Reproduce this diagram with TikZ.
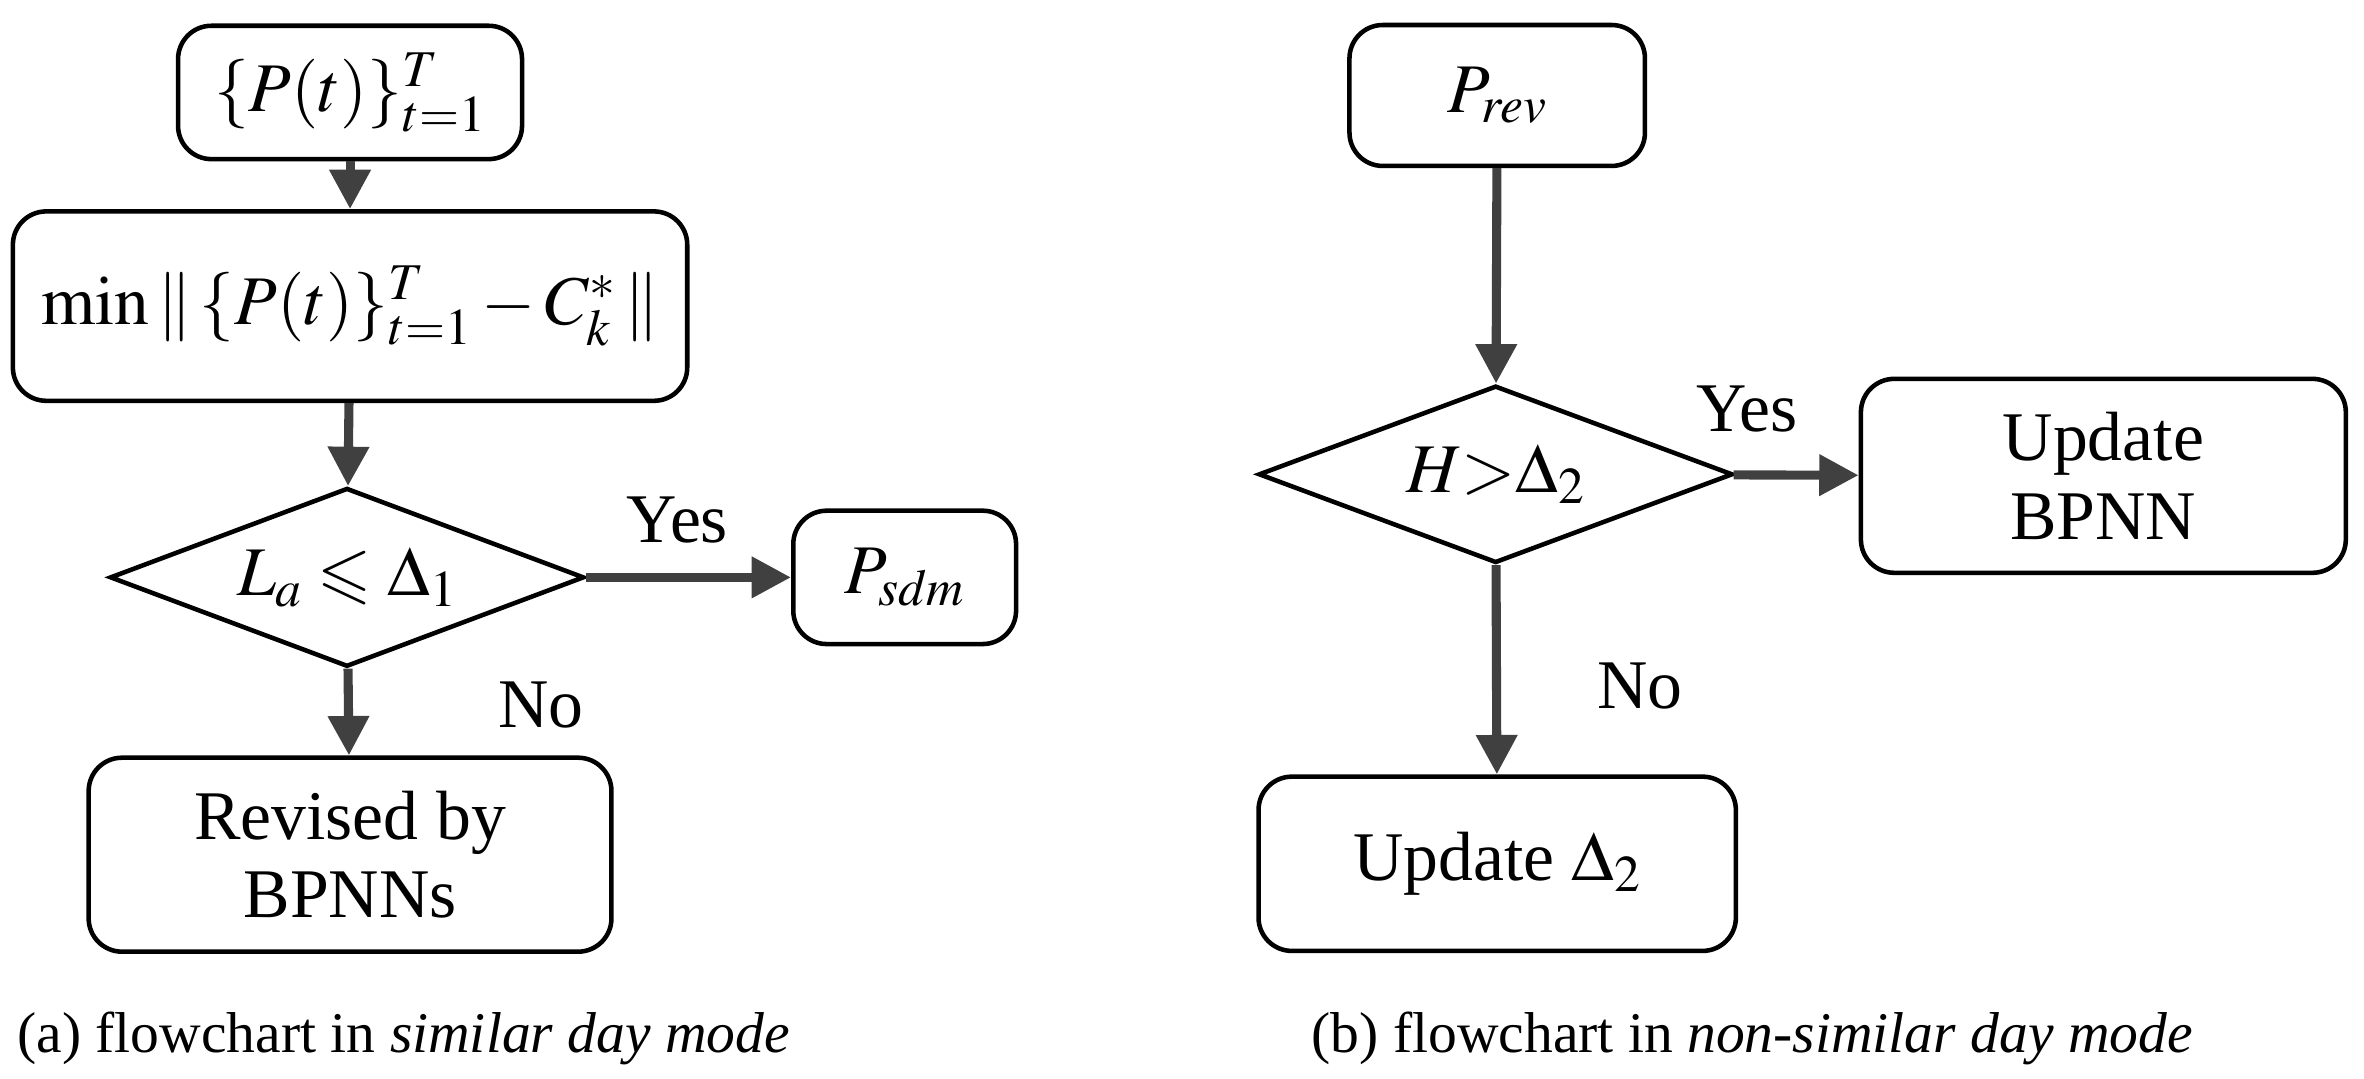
\documentclass[tikz,border=0pt]{standalone}
\usepackage{mathptmx}
\usepackage{amssymb}
\usepackage[no-math]{fontspec}
\setmainfont{Liberation Serif}
\usetikzlibrary{shapes.geometric,arrows.meta}
\begin{document}
\begin{tikzpicture}[x=1pt,y=-1pt,
  box/.style={draw,line width=3pt,rounded corners=22pt,align=center,font=\fontsize{46}{52}\selectfont,inner sep=0pt},
  dia/.style={draw,line width=3pt,diamond,aspect=2.65,inner sep=0pt,font=\fontsize{46}{52}\selectfont},
  arr/.style={draw=black!75,line width=6pt,-{Triangle[length=26pt,width=26pt]}},
  lab/.style={font=\fontsize{46}{52}\selectfont},
  captxt/.style={font=\fontsize{38}{44}\selectfont,anchor=west}]
\useasboundingbox (0,0) rectangle (1560,712);
\node[box,minimum width=227pt,minimum height=88pt] (a1) at (231,61) {$\{P(t)\}_{t=1}^{T}$};
\node[box,minimum width=445pt,minimum height=125pt] (a2) at (231,202) {$\min\|\,\{P(t)\}_{t=1}^{T}-C_k^{*}\,\|$};
\node[dia,minimum width=313pt,minimum height=118pt] (a3) at (229,381) {$L_a\leqslant\Delta_1$};
\node[box,minimum width=147pt,minimum height=88pt] (a4) at (597,381) {$P_{sdm}$};
\node[box,minimum width=345pt,minimum height=128pt] (a5) at (231,564) {Revised by\\BPNNs};
\draw[arr] (a1) -- (a2);
\draw[arr] (a2) -- (a3);
\draw[arr] (a3) -- (a4);
\draw[arr] (a3) -- (a5);
\node[lab] (y1) at (447,343) {Yes};
\node[lab] (n1) at (357,465) {No};
\node[captxt] (c1) at (8,685) {(a) flowchart in \textit{similar day mode}};
\node[box,minimum width=195pt,minimum height=93pt] (b1) at (988,63) {$P_{rev}$};
\node[dia,minimum width=313pt,minimum height=117pt] (b2) at (987,313) {$H{>}\Delta_2$};
\node[box,minimum width=320pt,minimum height=128pt] (b3) at (1388,314) {Update\\BPNN};
\node[box,minimum width=315pt,minimum height=115pt] (b4) at (988,570) {Update $\Delta_2$};
\draw[arr] (b1) -- (b2);
\draw[arr] (b2) -- (b3);
\draw[arr] (b2) -- (b4);
\node[lab] (y2) at (1153,270) {Yes};
\node[lab] (n2) at (1082,453) {No};
\node[captxt] (c2) at (862,685) {(b) flowchart in \textit{non-similar day mode}};
\end{tikzpicture}
\end{document}
